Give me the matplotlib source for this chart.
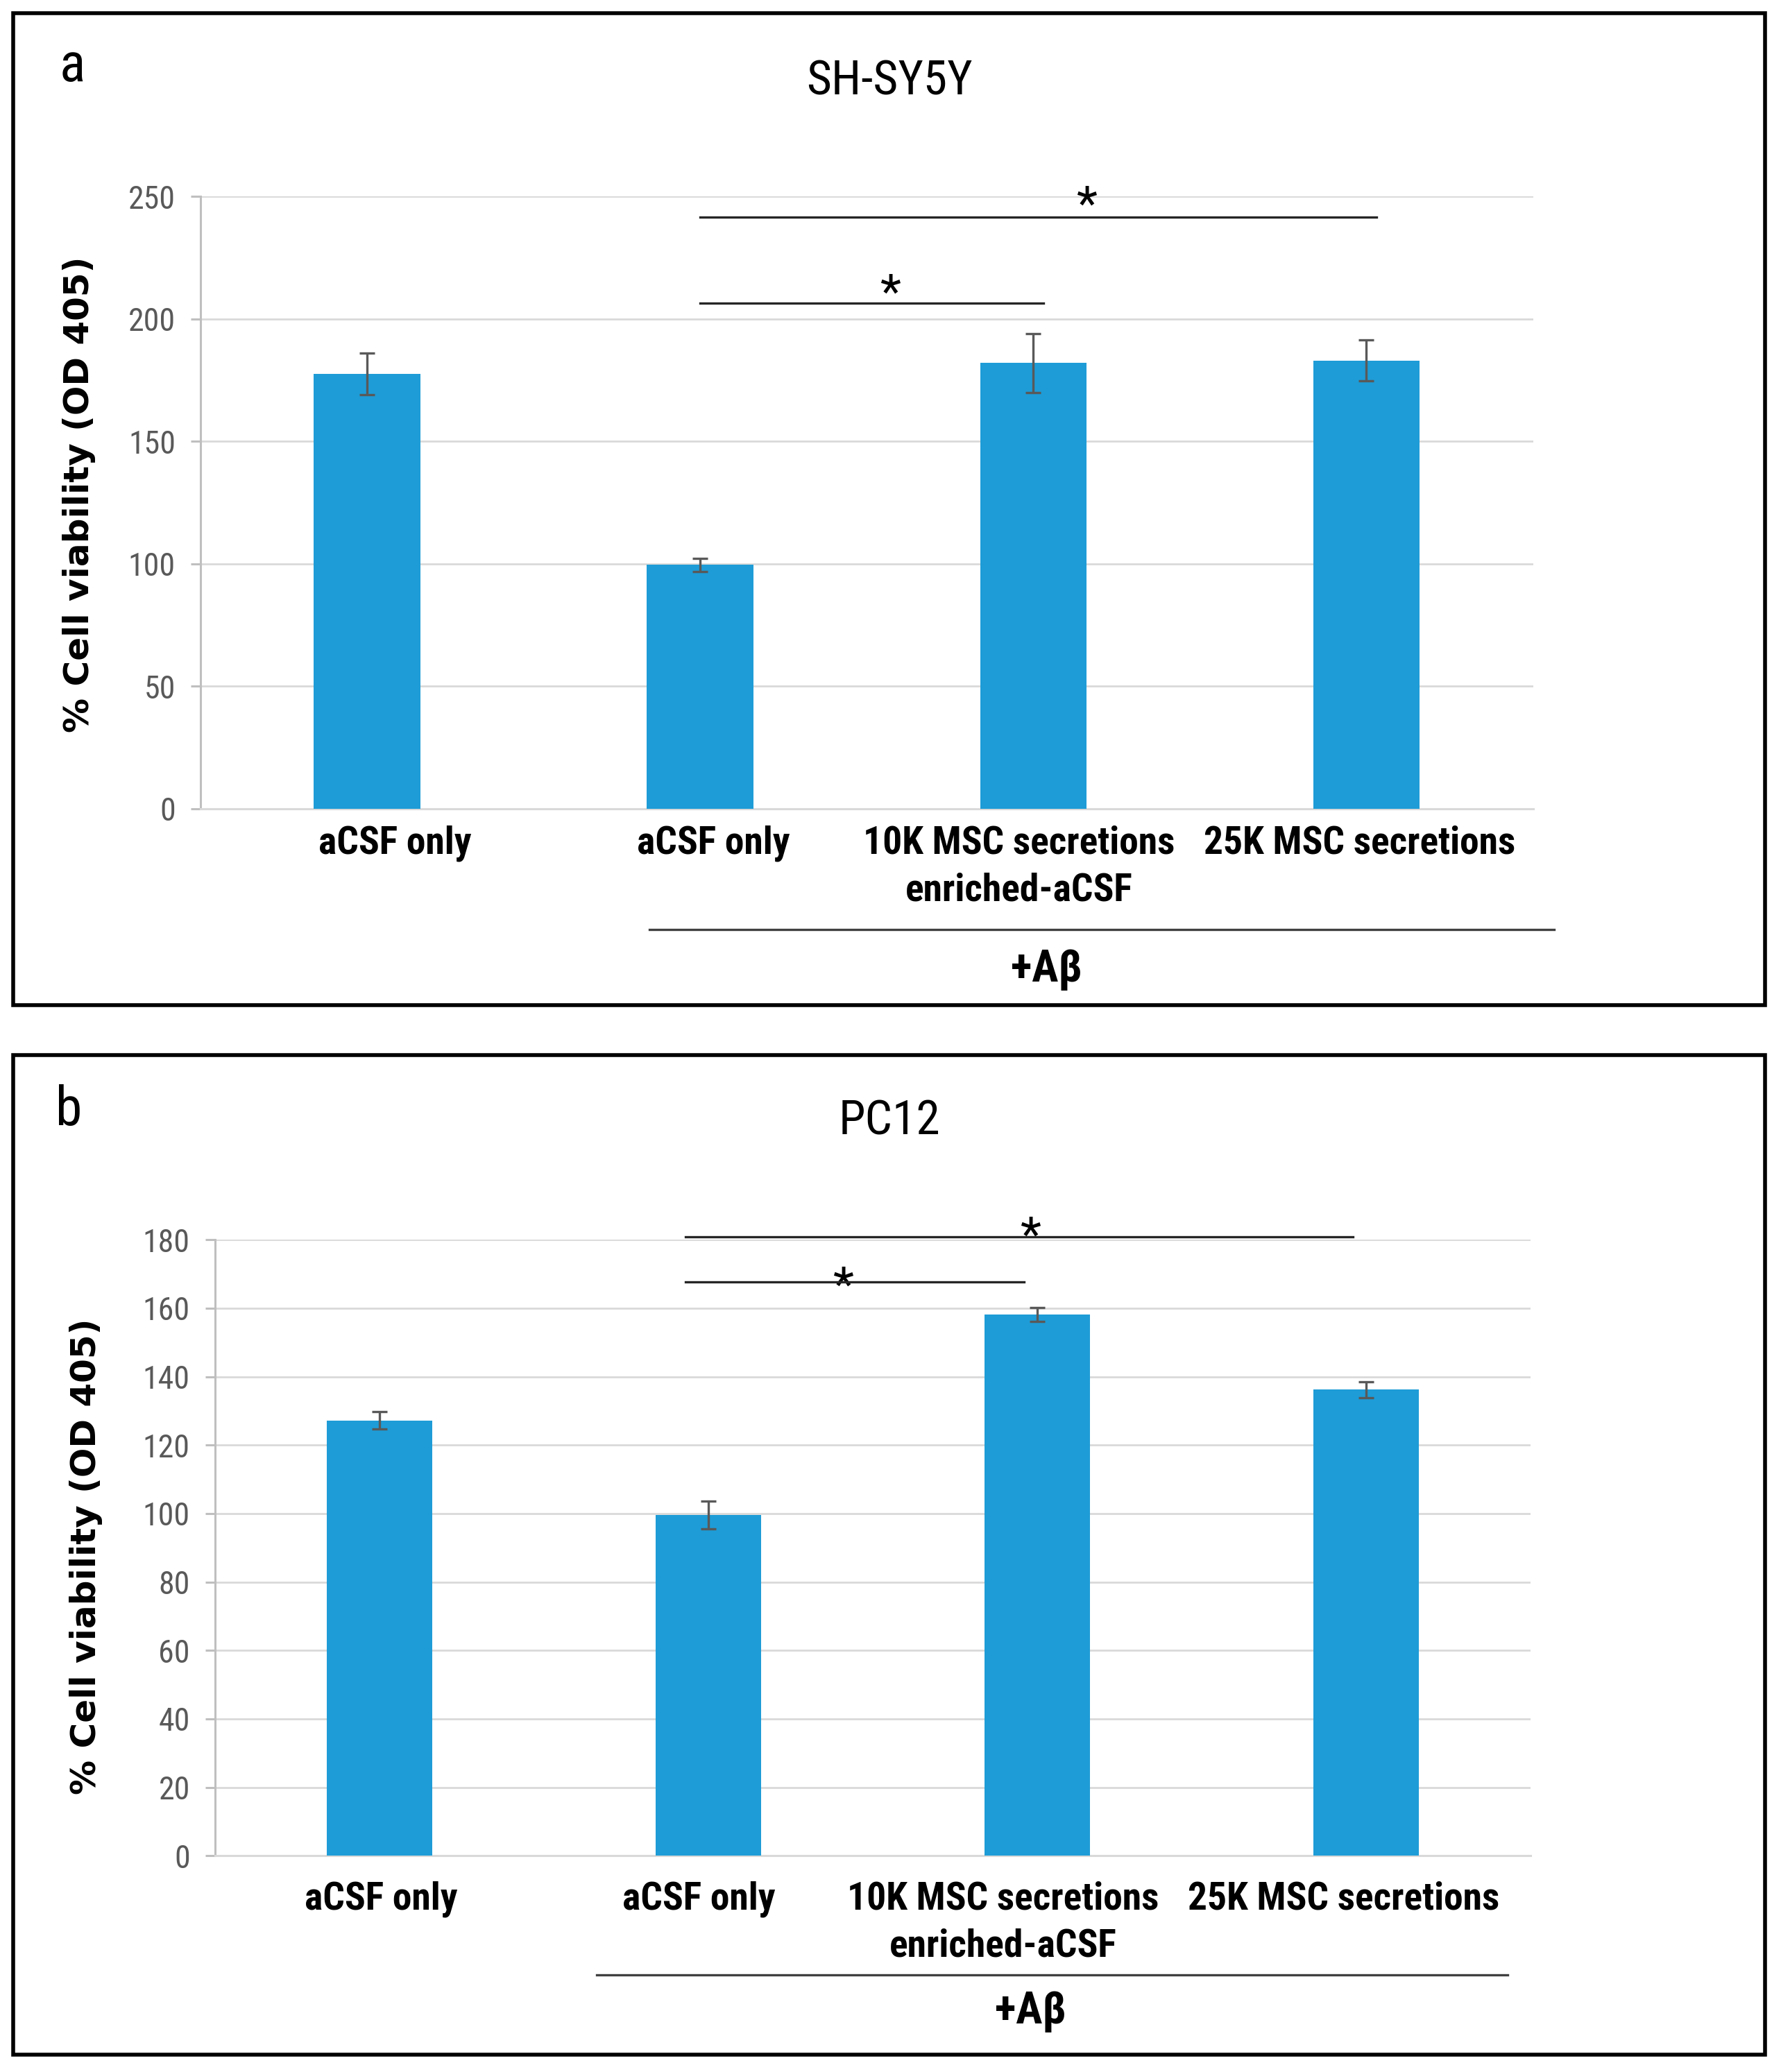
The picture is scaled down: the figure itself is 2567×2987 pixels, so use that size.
import numpy as np
import matplotlib
matplotlib.use('Agg')
import matplotlib.pyplot as plt
from matplotlib import font_manager
from matplotlib.patches import Rectangle

# --- data ---
categories = ['aCSF only', 'aCSF only', '10K MSC secretions\nenriched-aCSF', '25K MSC secretions']

shsy5y_mean = [177.5, 99.5, 182.0, 183.0]
shsy5y_err = [8.5, 2.8, 12.0, 8.3]
shsy5y_ticks = [0, 50, 100, 150, 200, 250]

pc12_mean = [127.2, 99.6, 158.1, 136.2]
pc12_err = [2.5, 4.0, 2.0, 2.3]
pc12_ticks = [0, 20, 40, 60, 80, 100, 120, 140, 160, 180]

# significance brackets: (from bar, to bar, height)
shsy5y_sig = [(1, 3, 241.5), (1, 2, 206.5)]
pc12_sig = [(1, 3, 180.8), (1, 2, 167.7)]

# pick a narrow sans like the Calibri-ish original
names = {f.name for f in font_manager.fontManager.ttflist}
narrow = next((n for n in ['Liberation Sans Narrow', 'Roboto Condensed', 'Open Sans']
               if n in names), 'DejaVu Sans')

BLUE = '#1E9CD7'
W, H = 1350.0, 1571.0   # reference layout units


def fx(x):
    return x / W


def fy(y):
    return 1 - y / H


fig = plt.figure(figsize=(25.67, 29.87), dpi=100)


def panel(box, ax_px, means, errs, ticks, sig, sig_pad, star_shift, star_gap,
          label_shift, label_pad, title, title_xy, letter, letter_xy, ylab_xy,
          ab_line, ab_text):
    x0, y0, x1, y1 = box
    fig.patches.append(Rectangle((fx(x0), fy(y1)), fx(x1) - fx(x0), fy(y0) - fy(y1),
                                 transform=fig.transFigure, fill=False,
                                 edgecolor='black', linewidth=4))
    l, t, r, b = ax_px
    ax = fig.add_axes([fx(l), fy(b), (r - l) / W, (b - t) / H])
    x = np.arange(len(means))
    ax.bar(x, means, width=0.32, color=BLUE, zorder=3)
    ax.errorbar(x, means, yerr=errs, fmt='none', ecolor='#595959',
                elinewidth=2.4, capsize=8, capthick=2.4, zorder=4)
    ax.set_xlim(-0.5, len(means) - 0.5)
    ax.set_ylim(ticks[0], ticks[-1])
    ax.set_yticks(ticks)
    # Excel placed the category labels a little off the bar centres
    ax.set_xticks(x + np.array(label_shift) * len(means) / (r - l))
    ax.set_xticklabels(categories, family=narrow, fontweight='bold',
                       fontsize=40, linespacing=1.4)
    for lab in ax.get_yticklabels():
        lab.set_family(narrow)
    ax.yaxis.grid(True, color='#D9D9D9', linewidth=2)
    ax.set_axisbelow(True)
    for s in ['top', 'right']:
        ax.spines[s].set_visible(False)
    ax.spines['left'].set_color('#BFBFBF')
    ax.spines['left'].set_linewidth(2.2)
    ax.spines['bottom'].set_color('#D9D9D9')
    ax.spines['bottom'].set_linewidth(2.2)
    ax.tick_params(axis='y', length=10, width=2.2, color='#BFBFBF',
                   labelsize=33, labelcolor='#595959', pad=16)
    ax.tick_params(axis='x', length=0, pad=label_pad)

    # significance bars and stars
    for k, (i, j, h) in enumerate(sig):
        xa, xb = i + sig_pad[0], j + sig_pad[1]
        ax.plot([xa, xb], [h, h], color='#262626', linewidth=2.4,
                clip_on=False, zorder=5)
        fs = 50
        ax.annotate('*', xy=((xa + xb) / 2 + star_shift[k], h),
                    xytext=(0, star_gap[k] - 0.58 * fs), textcoords='offset points',
                    ha='center', va='baseline', fontsize=fs, family=narrow,
                    annotation_clip=False)

    # +Abeta group line
    ax.plot([ab_line[0], ab_line[1]], [ab_line[2], ab_line[2]], transform=ax.transAxes,
            color='#404040', linewidth=2.4, clip_on=False)
    ax.text(ab_text[0], ab_text[1], '+A\u03b2', transform=ax.transAxes,
            ha='center', va='center', fontsize=46, fontweight='bold', family=narrow)

    fig.text(fx(title_xy[0]), fy(title_xy[1]), title, ha='center', va='center',
             fontsize=50, family=narrow)
    fig.text(fx(letter_xy[0]), fy(letter_xy[1]), letter, ha='center', va='center',
             fontsize=56, family=narrow)
    fig.text(fx(ylab_xy[0]), fy(ylab_xy[1]), '% Cell viability (OD 405)',
             rotation=90, ha='center', va='center', fontsize=36,
             fontweight='bold', family='DejaVu Sans')
    return ax


panel(box=(10, 10, 1338, 762), ax_px=(152, 149, 1162, 613),
      means=shsy5y_mean, errs=shsy5y_err, ticks=shsy5y_ticks,
      sig=shsy5y_sig, sig_pad=(0.0, 0.03), star_shift=[0.145, 0.055],
      star_gap=[27, 24], label_shift=[21, 10, -11, -5], label_pad=17,
      title='SH-SY5Y', title_xy=(674, 62), letter='a', letter_xy=(55, 50),
      ylab_xy=(60, 375), ab_line=(0.337, 1.016, -0.198), ab_text=(0.635, -0.263))

panel(box=(10, 800, 1338, 1558), ax_px=(163, 940, 1160, 1407),
      means=pc12_mean, errs=pc12_err, ticks=pc12_ticks,
      sig=pc12_sig, sig_pad=(-0.07, -0.04), star_shift=[0.035, -0.035],
      star_gap=[15, 10], label_shift=[1, -7, -26, -17], label_pad=26,
      title='PC12', title_xy=(674, 850), letter='b', letter_xy=(52, 842),
      ylab_xy=(65, 1180), ab_line=(0.29, 0.983, -0.193), ab_text=(0.62, -0.253))

plt.savefig('out.png', dpi=100)
